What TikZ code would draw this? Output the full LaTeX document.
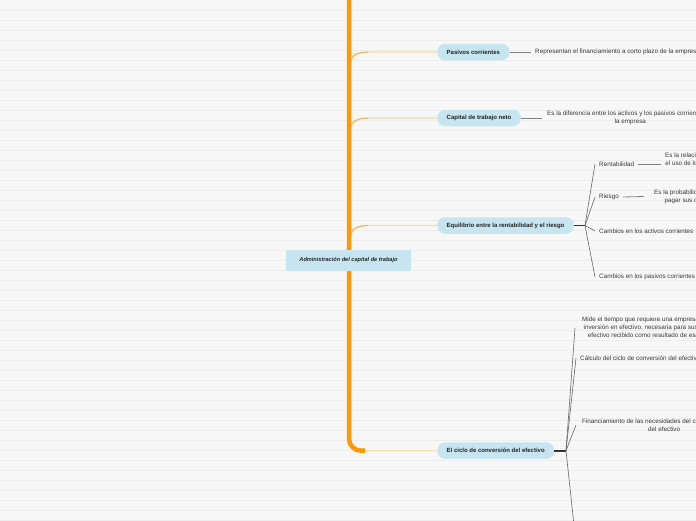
\documentclass[tikz,border=0pt]{standalone}
\usepackage{fontspec}
\setmainfont{Liberation Sans}
\definecolor{bg}{HTML}{F7F7F7}
\definecolor{stripe}{HTML}{EDEDED}
\definecolor{trunkc}{HTML}{FF9800}
\definecolor{branchc}{HTML}{FBD9A8}
\definecolor{curvec}{HTML}{F9B45A}
\definecolor{nodefill}{HTML}{C6E5F0}
\definecolor{txt}{HTML}{222222}
\definecolor{conn}{HTML}{808080}
\definecolor{fanc}{HTML}{666666}
\definecolor{stubc}{HTML}{333333}
\begin{document}
\begin{tikzpicture}[x=1pt,y=-1pt,
  pill/.style={draw=none,fill=nodefill,rounded corners=8pt,minimum height=16.5pt,
    inner xsep=9.5pt,inner ysep=0pt,font=\fontsize{6}{7}\selectfont\bfseries,text=txt,anchor=west},
  rootbox/.style={draw=none,fill=nodefill,rounded corners=2.5pt,minimum width=125pt,
    minimum height=21pt,inner sep=0pt,font=\fontsize{5.6}{7}\selectfont\bfseries\itshape,text=txt},
  desc/.style={inner xsep=4pt,inner ysep=0pt,font=\fontsize{6.3}{8}\selectfont,text=txt!90,
    align=center,anchor=west},
  conline/.style={draw=conn,line width=0.8pt},
  fanline/.style={draw=fanc,line width=0.6pt},
  stubline/.style={draw=stubc,line width=1.6pt},
  trunkline/.style={draw=trunkc,line width=4.5pt},
  branchline/.style={draw=branchc,line width=1.3pt},
  branchcurve/.style={draw=curvec,line width=1pt}]
\useasboundingbox (0,0) rectangle (696,520);
\clip (0,0) rectangle (696,520);
\fill[bg] (0,0) rectangle (696,520);
\foreach \yy in {10,20,...,520} \draw[stripe,line width=0.8pt] (0,\yy) -- (696,\yy);

% nodes
\node[rootbox] (root) at (348.5,260.5) {Administración del capital de trabajo};
\node[pill] (pas) at (437,52) {Pasivos corrientes};
\node[pill] (cap) at (437,118) {Capital de trabajo neto};
\node[pill] (equ) at (437,225.5) {Equilibrio entre la rentabilidad y el riesgo};
\node[pill] (cic) at (437,450.7) {El ciclo de conversión del efectivo};

% trunk and branches (behind nodes)
\begin{scope}[on background layer/.try]
\end{scope}
\coordinate (ttop) at (349,-10);
\coordinate (tbend) at (365,450.7);
\draw[trunkline,rounded corners=12pt] (ttop) -- (349,450.7) -- (tbend);
\draw[branchline] (tbend) -- (cic.west);
\foreach \nm/\yy in {pas/52,cap/118,equ/225.5}{
  \draw[branchline] (351,\yy+10) to[out=90,in=180] (368,\yy) -- (\nm.west);
  \draw[branchcurve] (351,\yy+10) to[out=90,in=180] (368,\yy);
}
\draw[trunkline] (349,-10) -- (349,440);
\node[rootbox] at (root) {Administración del capital de trabajo};

% Pasivos corrientes
\node[desc] (pasd) at (531,52) {Representan el financiamiento a corto plazo de la empresa};
\draw[conline] (pas.east) -- (pasd.west);

% Capital de trabajo neto
\node[desc] (capd) at (543,118) {Es la diferencia entre los activos y los pasivos corrientes de\\la empresa};
\draw[conline] (cap.east) -- ([xshift=-1pt]capd.west);

% Equilibrio
\coordinate (eqhub) at (585,225.5);
\draw[stubline] (equ.east) -- (eqhub);
\node[desc] (rent) at (595,164) {Rentabilidad};
\node[desc] (ries) at (595,197) {Riesgo};
\node[desc] (cact) at (595,231) {Cambios en los activos corrientes};
\node[desc] (cpas) at (595,277) {Cambios en los pasivos corrientes};
\foreach \c in {rent,ries,cact,cpas} \draw[fanline] (eqhub) -- (\c.west);
\node[desc] (rentd) at (661,164) {Es la relación entre los ingresos y los costos generados por\\el uso de los activos de la compañía (tanto corrientes como\\fijos) en actividades productivas.};
\draw[conline] (rent.east) -- (rentd.west);
\node[desc] (riesd) at (650,196.5) {Es la probabilidad de que una empresa no sea capaz de\\pagar sus obligaciones a medida que se vencen.};
\draw[conline] (ries.east) -- ([xshift=-6pt]riesd.west);

% Ciclo de conversion
\coordinate (cichub) at (566,450.7);
\draw[stubline] (cic.east) -- (cichub);
\node[desc] (mide) at (578,328) {Mide el tiempo que requiere una empresa para convertir la\\inversión en efectivo, necesaria para sus operaciones, en\\efectivo recibido como resultado de esas operaciones.};
\node[desc] (calc) at (576,358) {Cálculo del ciclo de conversión del efectivo};
\node[desc] (fin) at (578,425) {Financiamiento de las necesidades del ciclo de conversión\\del efectivo};
\coordinate (cicdown) at (574.5,530);
\draw[fanline] (cichub) -- ([xshift=-3pt]mide.west);
\draw[fanline] (cichub) -- (calc.west);
\draw[fanline] (cichub) -- ([xshift=-2pt]fin.west);
\draw[fanline] (cichub) -- (cicdown);
\end{tikzpicture}
\end{document}
